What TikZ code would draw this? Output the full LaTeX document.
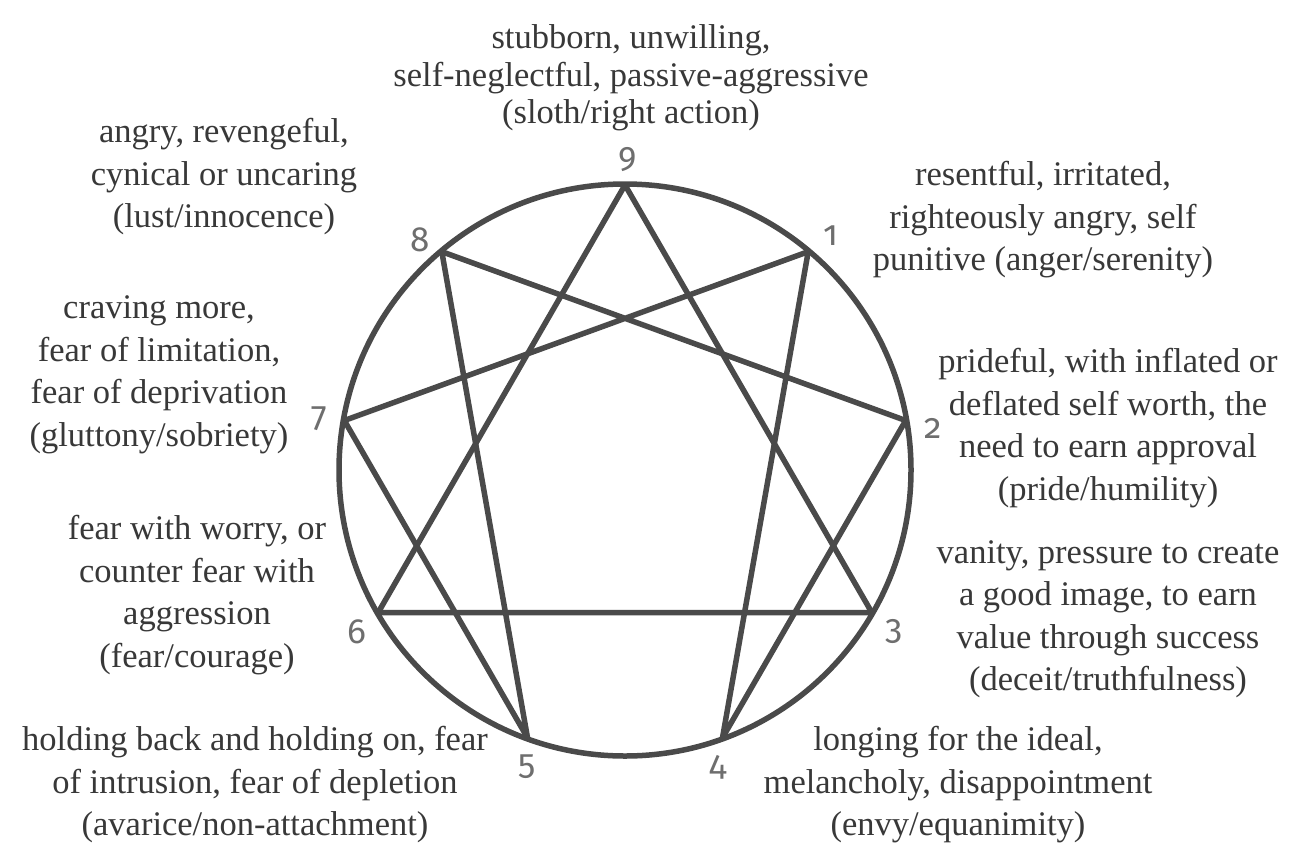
\documentclass[tikz,border=0pt]{standalone}
\usepackage{fontspec}
\setmainfont{Liberation Serif}
\newfontfamily\numfont[Numbers=OldStyle]{Fira Sans}
\usetikzlibrary{calc}
\definecolor{linegray}{HTML}{4A4A4A}
\definecolor{textgray}{HTML}{383838}
\definecolor{numgray}{HTML}{6E6E6E}
\tikzset{
  ln/.style={draw=linegray, line width=5.5pt, line join=round},
  txt/.style={text=textgray, align=center, inner sep=0pt, font=\fontsize{34.5}{42.5}\selectfont},
  toptxt/.style={txt, font=\fontsize{34.5}{37.5}\selectfont},
  num/.style={text=numgray, inner sep=0pt, font=\numfont\fontsize{35}{40}\selectfont}
}
\begin{document}
\begin{tikzpicture}[x=1pt,y=-1pt]
\useasboundingbox (0,0) rectangle (1303,846);
\fill[white] (0,0) rectangle (1303,846);
\coordinate (c) at (625,470);
\foreach \n/\a in {9/90,1/50,2/10,3/-30,4/-70,5/-110,6/-150,7/170,8/130}{
  \coordinate (v\n) at ($(c)+(\a:285pt)$);
}
\draw[ln] (c) circle[radius=286pt];
\draw[ln] (v9) -- (v3) -- (v6) -- cycle;
\draw[ln] (v1) -- (v4) -- (v2) -- (v8) -- (v5) -- (v7) -- cycle;
% numbers
\node[num] (n9) at (628,160) {9};
\node[num] (n1) at (831,236) {1};
\node[num] (n2) at (933,428) {2};
\node[num] (n3) at (894,631) {3};
\node[num] (n4) at (718,767) {4};
\node[num] (n5) at (527,767) {5};
\node[num] (n6) at (357,632) {6};
\node[num] (n7) at (319,419) {7};
\node[num] (n8) at (420,240) {8};
% texts
\node[toptxt] (t9) at (631,78) {stubborn, unwilling,\\self-neglectful, passive-aggressive\\(sloth/right action)};
\node[txt] (t8) at (224,177) {angry, revengeful,\\cynical or uncaring\\(lust/innocence)};
\node[txt] (t1) at (1043,220) {resentful, irritated,\\righteously angry, self\\punitive (anger/serenity)};
\node[txt] (t7) at (159,375) {craving more,\\fear of limitation,\\fear of deprivation\\(gluttony/sobriety)};
\node[txt] (t2) at (1108,428) {prideful, with inflated or\\deflated self worth, the\\need to earn approval\\(pride/humility)};
\node[txt] (t6) at (197,595) {fear with worry, or\\counter fear with\\aggression\\(fear/courage)};
\node[txt] (t3) at (1108,619) {vanity, pressure to create\\a good image, to earn\\value through success\\(deceit/truthfulness)};
\node[txt] (t5) at (255,785) {holding back and holding on, fear\\of intrusion, fear of depletion\\(avarice/non-attachment)};
\node[txt] (t4) at (958,785) {longing for the ideal,\\melancholy, disappointment\\(envy/equanimity)};
\end{tikzpicture}
\end{document}
